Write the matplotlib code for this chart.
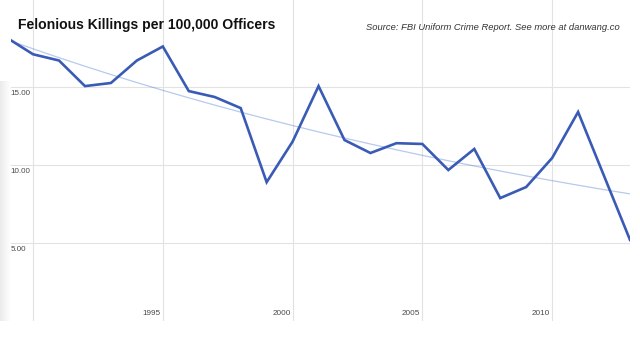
import numpy as np
import matplotlib.pyplot as plt

# Felonious killings of officers per 100,000, FBI UCR
years = list(range(1989, 2014))
rate = [18.15, 17.1, 16.7, 15.06, 15.26, 16.7, 17.6, 14.74, 14.36, 13.65,
        8.9, 11.5, 15.06, 11.6, 10.77, 11.4, 11.35, 9.68, 11.03, 7.88,
        8.59, 10.45, 13.4, 9.3, 5.2]
x_ticks = [1990, 1995, 2000, 2005, 2010]
y_ticks = [5, 10, 15]

title = "Felonious Killings per 100,000 Officers"
source = "Source: FBI Uniform Crime Report. See more at danwang.co"

x = np.array(years, dtype=float)
y = np.array(rate)

# exponential trend: least squares on log(y)
b, a = np.polyfit(x, np.log(y), 1)
trend = np.exp(a + b * x)

fig = plt.figure(figsize=(6.4, 3.39), dpi=100)
ax = fig.add_axes([11 / 640, 18 / 339, 619 / 640, 321 / 339])

ax.set_xlim(1989.15, 2013.0)
ax.set_ylim(0, 20.58)

for t in x_ticks:
    ax.axvline(t, color="#e2e2e2", lw=0.8, zorder=0)
for t in y_ticks:
    ax.axhline(t, color="#e2e2e2", lw=0.8, zorder=0)

ax.plot(x, trend, color="#3366cc", alpha=0.35, lw=0.9, zorder=2)
ax.plot(x, y, color="#3a5bb5", lw=1.9, zorder=3, solid_joinstyle="miter")

for s in ax.spines.values():
    s.set_visible(False)
ax.set_xticks([])
ax.set_yticks([])

# in-plot tick labels, Google Charts style
for t in y_ticks:
    ax.text(1989.12, t - 0.2, f"{t:.2f}", ha="left", va="top",
            fontsize=5.8, color="#4a4a4a", family="Liberation Sans")
for t in x_ticks[1:]:
    ax.text(t - 0.08, 0.25, str(t), ha="right", va="bottom",
            fontsize=5.9, color="#4a4a4a", family="Liberation Sans")

fig.text(18 / 640, 1 - 25 / 339, title, ha="left", va="center",
         fontsize=10.1, fontweight="bold", color="#111111", family="Liberation Sans")
fig.text(620 / 640, 1 - 27 / 339, source, ha="right", va="center",
         fontsize=6.75, style="italic", color="#333333", family="Liberation Sans")

# faint shaded strip along the left edge
grad = np.linspace(0.92, 1.0, 20)[None, :]
band = fig.add_axes([0, 18 / 339, 11 / 640, 240 / 339], zorder=-1)
band.imshow(grad, cmap="gray", vmin=0, vmax=1, aspect="auto")
band.axis("off")

fig.savefig("out.png", dpi=100)
